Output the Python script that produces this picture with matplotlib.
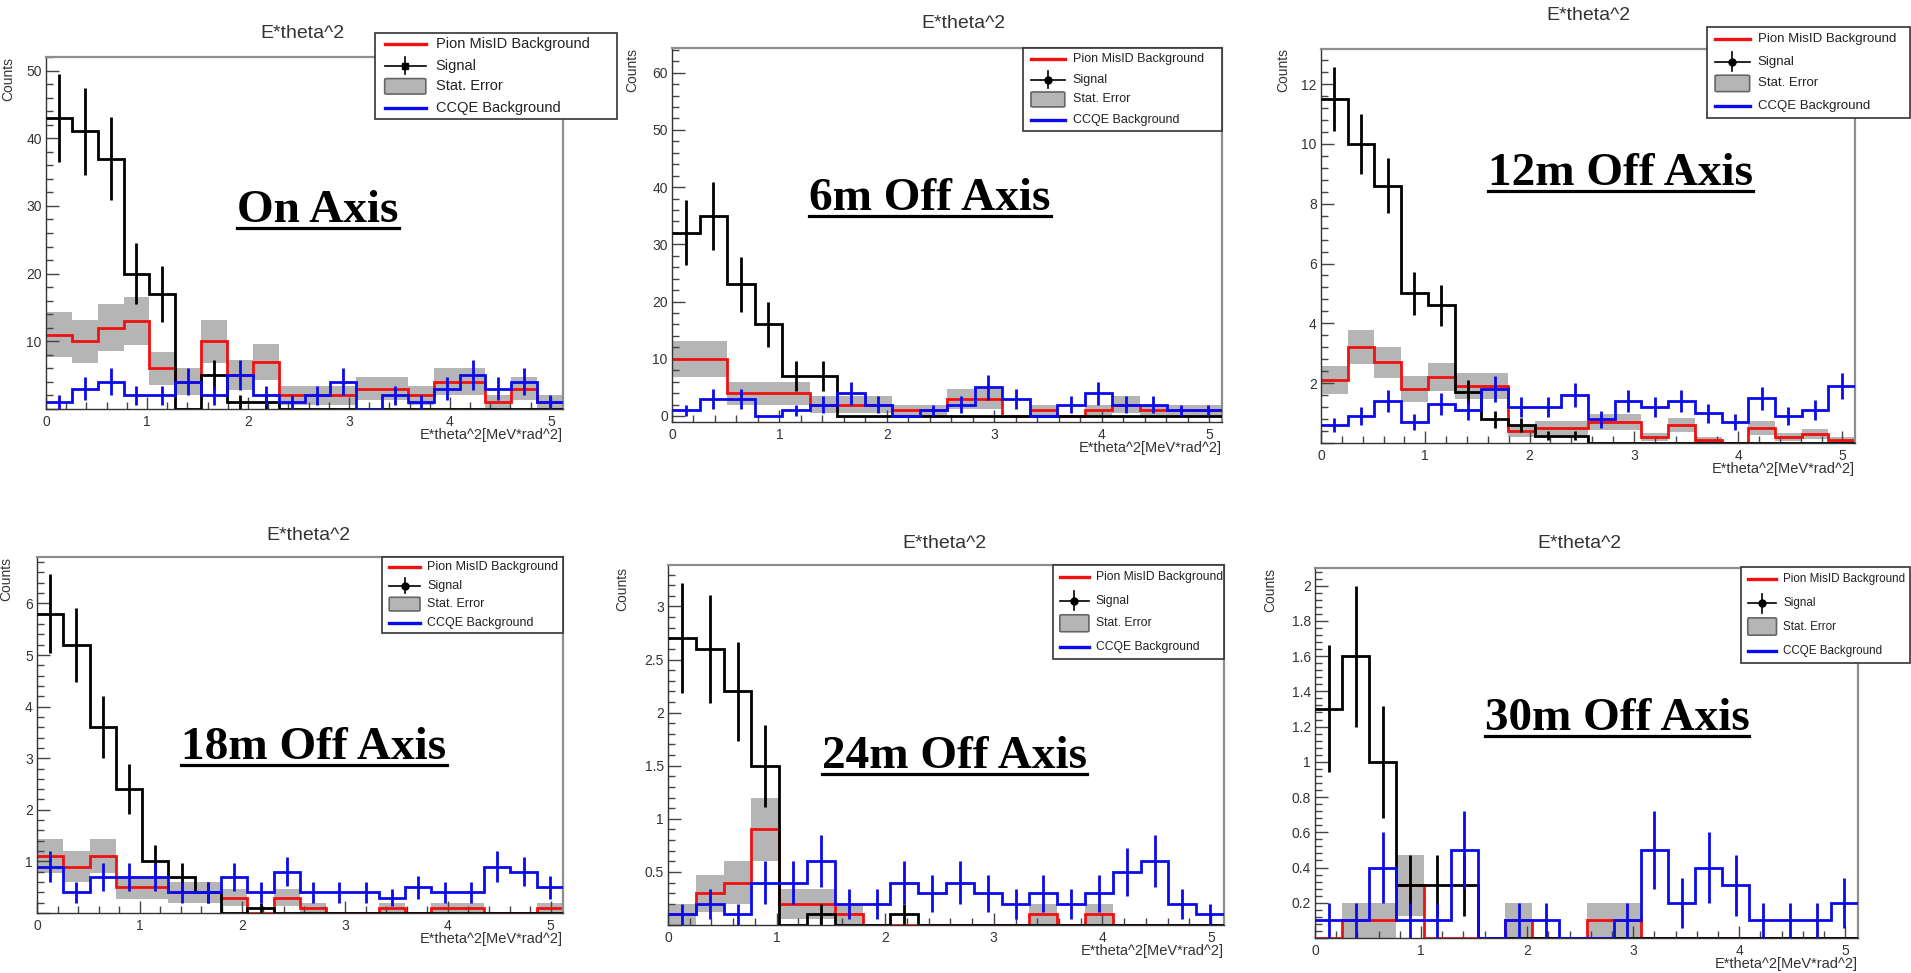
import numpy as np
import matplotlib
matplotlib.use('Agg')
import matplotlib.pyplot as plt
from matplotlib.patches import Rectangle, FancyBboxPatch
from matplotlib.lines import Line2D
from matplotlib.ticker import MultipleLocator, FuncFormatter

plt.rcParams['font.family'] = ['Liberation Sans', 'DejaVu Sans']

# ---- data (20 bins from 0 to 5.12) ----
panel_names = ['On Axis', '6m Off Axis', '12m Off Axis',
               '18m Off Axis', '24m Off Axis', '30m Off Axis']
x_min, x_max, n_bins = 0.0, 5.12, 20
event_weight = [1, 1, 0.1, 0.1, 0.1, 0.1]   # per-event weight, sets the Poisson errors

signal_on = [43, 41, 37, 20, 17, 0, 5, 1, 1, 0, 0, 0, 0, 0, 0, 0, 0, 0, 0, 0]
pion_on = [11, 10, 12, 13, 6, 4, 10, 5, 7, 2, 2, 2, 3, 3, 2, 4, 4, 1, 3, 1]
ccqe_on = [1, 3, 4, 2, 2, 4, 2, 5, 2, 1, 2, 4, 0, 2, 1, 3, 5, 3, 4, 1]

signal_6m = [32, 35, 23, 16, 7, 7, 0, 0, 0, 0, 0, 0, 0, 0, 0, 0, 0, 0, 0, 0]
pion_6m = [10, 10, 4, 4, 4, 2, 2, 2, 1, 1, 3, 3, 0, 1, 0, 1, 2, 1, 1, 1]
ccqe_6m = [1, 3, 3, 0, 1, 2, 4, 2, 0, 1, 2, 5, 3, 0, 2, 4, 2, 2, 1, 1]

signal_12m = [11.5, 10, 8.6, 5, 4.6, 1.7, 0.8, 0.6, 0.25, 0.25, 0, 0, 0, 0, 0, 0, 0, 0, 0, 0]
pion_12m = [2.1, 3.2, 2.7, 1.8, 2.2, 1.9, 1.9, 0.4, 0.5, 0.5, 0.7, 0.7, 0.2, 0.6, 0.1, 0.0, 0.5, 0.2, 0.3, 0.1]
ccqe_12m = [0.6, 0.9, 1.4, 0.7, 1.3, 1.1, 1.8, 1.2, 1.2, 1.6, 0.8, 1.4, 1.2, 1.4, 1.0, 0.7, 1.5, 0.9, 1.1, 1.9]

signal_18m = [5.8, 5.2, 3.6, 2.4, 1.0, 0.7, 0.4, 0, 0.1, 0, 0, 0, 0, 0, 0, 0, 0, 0, 0, 0]
pion_18m = [1.1, 0.9, 1.1, 0.5, 0.5, 0.4, 0.4, 0.3, 0, 0.3, 0.1, 0, 0, 0.1, 0, 0.1, 0.1, 0, 0, 0.1]
ccqe_18m = [0.9, 0.4, 0.7, 0.7, 0.7, 0.4, 0.4, 0.7, 0.4, 0.8, 0.4, 0.4, 0.4, 0.3, 0.5, 0.4, 0.4, 0.9, 0.8, 0.5]

signal_24m = [2.7, 2.6, 2.2, 1.5, 0, 0.1, 0, 0, 0.1, 0, 0, 0, 0, 0, 0, 0, 0, 0, 0, 0]
pion_24m = [0.1, 0.3, 0.4, 0.9, 0.2, 0.2, 0.1, 0, 0, 0, 0, 0, 0, 0.1, 0, 0.1, 0, 0, 0, 0]
ccqe_24m = [0.1, 0.2, 0.1, 0.4, 0.4, 0.6, 0.2, 0.2, 0.4, 0.3, 0.4, 0.3, 0.2, 0.3, 0.2, 0.3, 0.5, 0.6, 0.2, 0.1]

signal_30m = [1.3, 1.6, 1.0, 0.3, 0.3, 0.3, 0, 0, 0, 0, 0, 0, 0, 0, 0, 0, 0, 0, 0, 0]
pion_30m = [0, 0.1, 0.1, 0.3, 0, 0, 0, 0.1, 0, 0, 0.1, 0.1, 0, 0, 0, 0, 0, 0, 0, 0]
ccqe_30m = [0.1, 0.1, 0.4, 0.1, 0.1, 0.5, 0, 0.1, 0.1, 0, 0, 0.1, 0.5, 0.2, 0.4, 0.3, 0.1, 0.1, 0.1, 0.2]

signals = [signal_on, signal_6m, signal_12m, signal_18m, signal_24m, signal_30m]
pions = [pion_on, pion_6m, pion_12m, pion_18m, pion_24m, pion_30m]
ccqes = [ccqe_on, ccqe_6m, ccqe_12m, ccqe_18m, ccqe_24m, ccqe_30m]

legend_labels = ['Pion MisID Background', 'Signal', 'Stat. Error', 'CCQE Background']

# ---- layout (pixels in the 1911x973 picture) ----
W, H = 1911, 973
axes_px = [(46, 57, 563, 409), (672, 48, 1222, 422), (1321, 49, 1855, 443),
           (37, 557, 563, 913), (668, 565, 1224, 925), (1315, 568, 1858, 938)]
legend_px = [(375, 33, 617, 119), (1023, 48, 1222, 131), (1707, 27, 1910, 118),
             (382, 557, 563, 633), (1053, 565, 1224, 659), (1741, 567, 1910, 663)]
legend_fs = [10.5, 9, 9.5, 9, 8.7, 8.4]
title_px = [(302, 33), (963, 23), (1588, 15), (308, 535), (944, 543), (1579, 543)]
counts_px = [(8, 57), (632, 48), (1283, 48), (6, 557), (622, 567), (1270, 568)]
label_px = [(318, 228), (930, 216), (1620, 191), (314, 765), (954, 774), (1617, 736)]
ylims = [(0, 52), (-1.05, 64.3), (0, 13.17), (0, 6.9), (0, 3.39), (0, 2.1)]
y_major = [10, 10, 2, 1, 0.5, 0.2]
y_minor = [2, 2, 0.4, 0.2, 0.1, 0.04]

RED = '#f01010'
BLUE = '#0a0aee'
GREY = '#b5b5b5'
TXT = '#333333'
LW = 2.0


def px_rect(l, t, r, b):
    return [l / W, 1 - b / H, (r - l) / W, (b - t) / H]


fig = plt.figure(figsize=(W / 100, H / 100), dpi=100)

edges = np.linspace(x_min, x_max, n_bins + 1)
centers = 0.5 * (edges[:-1] + edges[1:])
bw = edges[1] - edges[0]

big_labels = []
for i in range(6):
    ax = fig.add_axes(px_rect(*axes_px[i]))
    sig = np.array(signals[i], dtype=float)
    pio = np.array(pions[i], dtype=float)
    cq = np.array(ccqes[i], dtype=float)
    w = event_weight[i]

    # stat. error band on the pion background
    err_p = np.sqrt(pio * w)
    m = pio > 0
    ax.bar(centers[m], 2 * err_p[m], bottom=pio[m] - err_p[m], width=bw,
           color=GREY, lw=0, zorder=1)
    ax.stairs(pio, edges, baseline=None, color=RED, lw=LW, zorder=2)

    # signal
    ax.stairs(sig, edges, baseline=None, color='black', lw=LW, zorder=3)
    m = sig > 0
    ax.errorbar(centers[m], sig[m], yerr=np.sqrt(sig[m] * w), fmt='none',
                ecolor='black', elinewidth=LW, capsize=0, zorder=3)

    # CCQE background
    ax.stairs(cq, edges, baseline=None, color=BLUE, lw=LW, zorder=4)
    m = cq > 0
    ax.errorbar(centers[m], cq[m], yerr=np.sqrt(cq[m] * w), fmt='none',
                ecolor=BLUE, elinewidth=LW, capsize=0, zorder=4)

    ax.set_xlim(x_min, x_max)
    ax.set_ylim(*ylims[i])
    ax.xaxis.set_major_locator(MultipleLocator(1))
    ax.xaxis.set_minor_locator(MultipleLocator(0.2))
    ax.yaxis.set_major_locator(MultipleLocator(y_major[i]))
    ax.yaxis.set_minor_locator(MultipleLocator(y_minor[i]))
    hide_zero = ylims[i][0] == 0
    ax.yaxis.set_major_formatter(FuncFormatter(
        lambda v, p, hz=hide_zero: '' if (hz and abs(v) < 1e-9) else f'{v:g}'))
    ax.tick_params(which='both', direction='in', top=False, right=False,
                   colors='#444444', labelsize=10, labelcolor=TXT)
    ax.tick_params(which='major', length=9, width=1)
    ax.tick_params(which='minor', length=5, width=1)
    ax.tick_params(axis='x', pad=4)
    ax.tick_params(axis='y', pad=3)
    for s in ['top', 'right']:
        ax.spines[s].set_color('#8e8e8e')
        ax.spines[s].set_linewidth(1.6)
    for s in ['left', 'bottom']:
        ax.spines[s].set_color('#333333')
        ax.spines[s].set_linewidth(1.0)

    l, t, r, b = axes_px[i]
    fig.text(r / W, 1 - (b + 26) / H, 'E*theta^2[MeV*rad^2]', ha='right',
             va='center', fontsize=10.5, color=TXT)
    tx, ty = title_px[i]
    fig.text(tx / W, 1 - ty / H, 'E*theta^2', ha='center', va='center',
             fontsize=14, color=TXT)
    cx, cy = counts_px[i]
    fig.text(cx / W, 1 - cy / H, 'Counts', rotation=90, ha='center', va='top',
             fontsize=10, color=TXT)

    # legend box
    lax = fig.add_axes(px_rect(*legend_px[i]))
    lax.set_xlim(0, 1)
    lax.set_ylim(0, 1)
    lax.axis('off')
    lax.add_patch(Rectangle((0, 0), 1, 1, fc='white', ec='#333333', lw=1.2,
                            clip_on=False))
    rows = [0.87, 0.62, 0.38, 0.13]
    hx0, hx1 = 0.04, 0.21
    hmid = 0.5 * (hx0 + hx1)
    lax.plot([hx0, hx1], [rows[0]] * 2, color=RED, lw=2.4)
    lax.plot([hx0, hx1], [rows[1]] * 2, color='black', lw=1.2)
    lax.plot([hmid, hmid], [rows[1] - 0.1, rows[1] + 0.1], color='black', lw=1.2)
    lax.plot([hmid], [rows[1]], marker='s' if i == 0 else 'o', ms=5, color='black')
    lax.add_patch(FancyBboxPatch((hx0 + 0.01, rows[2] - 0.08), hx1 - hx0 - 0.02, 0.16,
                                 boxstyle='round,pad=0.01', fc=GREY, ec='#666666', lw=1.2))
    lax.plot([hx0, hx1], [rows[3]] * 2, color=BLUE, lw=2.4)
    for j, lab in enumerate(legend_labels):
        lax.text(0.25, rows[j], lab, va='center', ha='left',
                 fontsize=legend_fs[i], color='#222222')

    # big underlined panel label
    ux, uy = label_px[i]
    t_big = fig.text(ux / W, 1 - (uy - 6) / H, panel_names[i], ha='center',
                     va='baseline', fontsize=34, fontweight='bold',
                     family=['Liberation Serif', 'DejaVu Serif'], color='black')
    big_labels.append((t_big, uy))

fig.canvas.draw()
renderer = fig.canvas.get_renderer()
for t_big, uy in big_labels:
    bb = t_big.get_window_extent(renderer)
    fig.add_artist(Line2D([bb.x0 / W, bb.x1 / W], [1 - uy / H] * 2,
                          transform=fig.transFigure, color='black', lw=2.3))

fig.savefig('out.png', dpi=100)
